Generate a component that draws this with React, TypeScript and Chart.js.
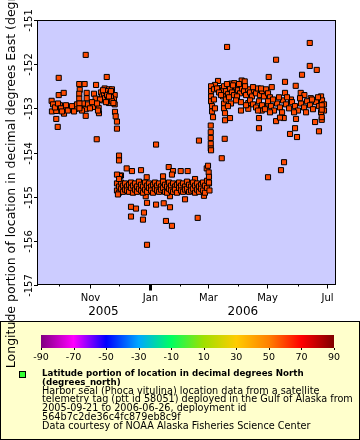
import { useEffect, useRef } from 'react';
import { Chart, registerables } from 'chart.js';

Chart.register(...registerables);

const DAY = 86400000;
const deploymentStart = Date.parse('2005-09-21');
const axisStart = Date.parse('2005-09-09T10:00:00Z');
const axisEnd = Date.parse('2006-07-08T19:00:00Z');

// [days since deployment start, longitude (degrees_east)]
const fallLocations: [number, number][] = [
  [37.0, -151.79], [9.5, -152.31], [58.4, -152.29], [30.4, -152.45], [35.9, -152.45], [47.5, -152.47],
  [30.9, -152.58], [9.5, -152.70], [14.6, -152.65], [38.0, -152.65], [38.0, -152.77], [30.4, -152.67],
  [30.4, -152.78], [45.4, -152.67], [47.1, -152.78], [56.3, -152.55], [60.7, -152.57], [63.7, -152.57],
  [66.5, -152.70], [65.8, -152.80], [66.5, -152.91], [60.7, -152.88], [2.3, -152.83], [10.8, -152.93],
  [15.6, -152.99], [21.3, -153.02], [26.8, -153.01], [37.0, -153.02], [44.4, -152.97], [50.2, -152.99],
  [2.6, -153.07], [7.0, -153.06], [14.9, -153.12], [37.0, -153.17], [50.5, -153.11], [66.8, -153.08],
  [7.0, -153.24], [68.8, -153.30], [68.8, -153.46], [8.5, -153.42], [48.2, -153.70],
  [52.5, -152.64], [53.6, -152.73], [54.6, -152.82], [55.6, -152.68], [56.6, -152.77], [57.6, -152.61],
  [58.7, -152.70], [59.7, -152.80], [61.7, -152.66], [62.7, -152.75], [63.7, -152.84], [51.5, -152.80],
  [54.6, -152.59], [57.6, -152.86], [60.7, -152.73], [62.7, -152.61],
  [3.7, -152.91], [5.7, -152.98], [8.8, -152.89], [11.8, -153.00], [12.8, -153.07], [16.9, -152.93],
  [18.8, -153.05], [23.0, -152.95], [25.1, -153.07], [28.1, -152.91], [31.2, -152.98], [33.2, -153.05],
  [34.2, -152.89], [39.3, -152.91], [41.3, -153.00], [43.4, -152.86], [48.5, -152.89], [49.5, -153.05],
  [30.6, -152.89], [30.6, -153.00], [65.2, -152.88], [67.5, -153.18],
];

const winterLocations: [number, number][] = [
  [70.9, -154.07], [70.9, -154.18], [72.9, -154.52], [78.7, -154.36], [84.1, -154.42], [93.3, -154.40],
  [99.1, -154.56], [108.6, -153.82], [121.5, -154.33], [125.9, -154.42], [133.7, -154.42], [140.8, -154.42],
  [124.8, -154.50], [115.7, -154.54], [148.3, -154.60], [160.2, -154.36], [162.2, -154.45], [71.9, -154.53],
  [98.1, -154.99], [122.8, -154.99], [138.1, -155.06], [157.4, -154.98], [99.4, -155.14], [108.6, -155.18],
  [116.4, -155.15], [122.8, -155.24], [83.1, -155.23], [88.2, -155.27], [96.3, -155.36], [83.1, -155.45],
  [95.3, -155.52], [118.7, -155.55], [124.8, -155.66], [151.0, -155.48], [99.4, -156.09], [152.3, -153.73],
  [68.8, -154.70], [68.8, -154.86], [70.9, -154.77], [70.9, -154.91], [72.9, -154.68], [72.9, -154.82],
  [74.9, -154.75], [74.9, -154.89], [77.0, -154.70], [77.0, -154.84], [79.0, -154.77], [79.0, -154.86],
  [81.1, -154.73], [81.1, -154.89], [83.1, -154.68], [83.1, -154.80], [85.1, -154.75], [85.1, -154.91],
  [87.2, -154.70], [87.2, -154.84], [89.2, -154.77], [89.2, -154.89], [91.2, -154.66], [91.2, -154.82],
  [93.3, -154.73], [93.3, -154.86], [95.3, -154.77], [95.3, -154.91], [97.4, -154.68], [97.4, -154.84],
  [99.4, -154.75], [99.4, -154.89], [101.4, -154.70], [101.4, -154.80], [103.5, -154.77], [103.5, -154.86],
  [105.5, -154.73], [105.5, -154.91], [107.5, -154.68], [107.5, -154.82], [109.6, -154.75], [109.6, -154.86],
  [111.6, -154.70], [111.6, -154.89], [113.6, -154.77], [113.6, -154.84], [115.7, -154.66], [115.7, -154.80],
  [117.7, -154.73], [117.7, -154.89], [119.8, -154.77], [119.8, -154.91], [121.8, -154.68], [121.8, -154.82],
  [123.8, -154.75], [123.8, -154.86], [125.9, -154.70], [125.9, -154.89], [127.9, -154.77], [127.9, -154.84],
  [129.9, -154.73], [129.9, -154.91], [132.0, -154.68], [132.0, -154.80], [134.0, -154.75], [134.0, -154.86],
  [136.0, -154.70], [136.0, -154.89], [138.1, -154.77], [138.1, -154.84], [140.1, -154.66], [140.1, -154.82],
  [142.2, -154.73], [142.2, -154.89], [144.2, -154.77], [144.2, -154.86], [146.2, -154.68], [146.2, -154.82],
  [148.3, -154.75], [148.3, -154.91], [150.3, -154.70], [150.3, -154.84], [152.3, -154.77], [152.3, -154.89],
  [154.4, -154.73], [154.4, -154.82], [156.4, -154.68], [156.4, -154.86], [158.4, -154.75], [158.4, -154.91],
  [160.5, -154.64], [160.5, -154.80], [162.5, -154.55], [162.5, -154.70],
  [68.8, -154.50], [69.8, -154.95], [70.9, -154.60], [161.5, -154.30], [162.5, -154.68], [163.0, -154.86],
];

const springLocations: [number, number][] = [
  [180.9, -151.61], [265.1, -151.52], [230.8, -151.90], [265.1, -152.04], [272.2, -152.13], [257.2, -152.24],
  [223.3, -152.29], [239.9, -152.40], [250.8, -152.49], [171.7, -152.38], [168.6, -152.47], [174.4, -152.54],
  [185.2, -152.44], [188.3, -152.43], [195.8, -152.37], [198.9, -152.39], [226.4, -152.52], [239.9, -152.65],
  [255.9, -152.65], [259.6, -152.70], [266.1, -152.77], [276.6, -152.73], [246.0, -152.80], [183.9, -153.22],
  [178.8, -153.27], [213.4, -153.22], [230.8, -153.29], [238.6, -153.22], [251.1, -153.24], [270.5, -153.31],
  [277.3, -153.26], [213.4, -153.45], [250.1, -153.45], [245.0, -153.58], [252.1, -153.65], [274.5, -153.52],
  [164.3, -153.39], [164.3, -153.54], [164.3, -153.67], [164.3, -153.80], [164.3, -153.91], [178.5, -153.69],
  [175.5, -154.13], [164.6, -153.95], [238.9, -154.22], [235.8, -154.40], [222.6, -154.56], [195.1, -152.86],
  [195.1, -153.05], [202.5, -152.88], [202.5, -153.01], [216.2, -153.05], [222.6, -152.89], [234.8, -153.21],
  [164.6, -152.50], [164.6, -152.61], [164.6, -152.73], [164.6, -152.84], [165.6, -152.95], [165.6, -153.07],
  [166.6, -153.20], [167.6, -152.57], [167.6, -152.80], [168.6, -153.00],
  [176.8, -152.59], [176.8, -152.73], [177.8, -152.89], [177.8, -153.00], [178.8, -153.11], [179.8, -152.80],
  [170.7, -152.55], [172.7, -152.64], [174.7, -152.70], [177.8, -152.50], [179.8, -152.61], [181.8, -152.68],
  [183.9, -152.55], [185.9, -152.64], [188.0, -152.70], [190.0, -152.52], [192.0, -152.59], [194.1, -152.66],
  [196.1, -152.55], [198.2, -152.61], [200.2, -152.70], [202.2, -152.57], [204.3, -152.64], [206.3, -152.73],
  [208.3, -152.59], [210.4, -152.66], [212.4, -152.55], [214.4, -152.70], [216.5, -152.61], [218.5, -152.73],
  [220.6, -152.57], [222.6, -152.66], [224.6, -152.75], [182.9, -152.75], [191.0, -152.73], [199.2, -152.50],
  [207.3, -152.52], [215.5, -152.55], [186.9, -152.48], [180.8, -152.45], [193.1, -152.45],
  [204.3, -152.82], [207.3, -152.91], [210.4, -152.98], [213.4, -152.84], [216.5, -152.93], [219.5, -153.02],
  [222.6, -152.84], [225.7, -152.95], [228.7, -153.05], [231.8, -152.89], [234.8, -152.98], [237.9, -152.82],
  [240.9, -152.91], [244.0, -153.00], [247.0, -152.86], [250.1, -152.95], [253.1, -153.05], [256.2, -152.89],
  [259.3, -152.98], [262.3, -152.84], [265.4, -152.93], [268.4, -153.02], [271.5, -152.86], [274.5, -152.95],
  [277.6, -152.82], [279.6, -152.91], [279.6, -153.05], [276.6, -153.09], [227.7, -152.80], [233.8, -152.75],
  [241.9, -152.75], [255.2, -152.77], [267.4, -152.80], [273.5, -152.75], [261.3, -153.09], [249.1, -153.09],
  [236.9, -153.09], [224.6, -153.09], [212.4, -153.05], [200.2, -152.93], [190.0, -152.82], [184.9, -152.89],
  [181.8, -152.95], [277.3, -152.93], [277.3, -153.03], [277.3, -153.20],
];

const lonTicks = [-157, -156, -155, -154, -153, -152, -151];
const monthTicks = ['2005-10-01', '2005-11-01', '2005-12-01', '2006-01-01', '2006-02-01', '2006-03-01', '2006-04-01', '2006-05-01', '2006-06-01', '2006-07-01'];
const monthLabels = ['', 'Nov', '', 'Jan', '', 'Mar', '', 'May', '', 'Jul'];
const yearBoundary = '2006-01-01';
const yearLabels = ['2005', '2006'];
const yearLabelDates = ['2005-11-15', '2006-04-06'];
const colorBarTicks = [-90, -70, -50, -30, -10, 10, 30, 50, 70, 90];
const colorBarColors = ['#800080', '#ff00ff', '#0000ff', '#00a8ff', '#00ff60', '#a0e000', '#ffcc00', '#ff8000', '#ff0000', '#800000'];
const legendTitle = ['Latitude portion of location in decimal degrees North', '(degrees_north)'];
const legendLines = [
  'Harbor seal (Phoca vitulina) location data from a satellite',
  'telemetry tag (ptt id 58051) deployed in the Gulf of Alaska from',
  '2005-09-21 to 2006-06-26, deployment id',
  '564b7c2de36c4fc879eb8c9f',
  'Data courtesy of NOAA Alaska Fisheries Science Center',
];
const yTitle = 'Longitude portion of location in decimal degrees East (degrees_east)';

const FONT = '"DejaVu Sans", Verdana, sans-serif';

const decor = {
  id: 'decor',
  beforeDraw(chart: any) {
    const { ctx, chartArea: a, width, height } = chart;
    ctx.save();
    ctx.fillStyle = '#ffffff';
    ctx.fillRect(0, 0, width, height);
    ctx.fillStyle = '#ccccff';
    ctx.fillRect(a.left, a.top, a.right - a.left, a.bottom - a.top);
    ctx.restore();
  },
  afterDraw(chart: any) {
    const { ctx, chartArea: a } = chart;
    const xs = chart.scales.x;
    const ys = chart.scales.y;
    ctx.save();
    ctx.strokeStyle = '#000';
    ctx.fillStyle = '#000';
    ctx.lineWidth = 1;
    ctx.strokeRect(a.left - 0.5, a.top + 0.5, a.right - a.left + 1, a.bottom - a.top - 1);

    // y ticks and labels
    ctx.font = `10px ${FONT}`;
    lonTicks.forEach((lon) => {
      const y = Math.round(ys.getPixelForValue(lon)) + 0.5;
      ctx.beginPath();
      ctx.moveTo(a.left - 4, y);
      ctx.lineTo(a.left, y);
      ctx.stroke();
      ctx.save();
      ctx.translate(a.left - 6.5, y);
      ctx.rotate(-Math.PI / 2);
      ctx.textAlign = 'center';
      ctx.textBaseline = 'alphabetic';
      ctx.fillText(String(lon), 0, 0);
      ctx.restore();
    });

    // x ticks and labels
    const bottom = a.bottom - 0.5;
    monthTicks.forEach((m, i) => {
      const t = Date.parse(m);
      const x = Math.round(xs.getPixelForValue(t)) + 0.5;
      const isYear = m === yearBoundary;
      ctx.lineWidth = isYear ? 3 : 1;
      const len = isYear ? 6 : monthLabels[i] ? 4 : 2;
      ctx.beginPath();
      ctx.moveTo(x, bottom);
      ctx.lineTo(x, bottom + len);
      ctx.stroke();
      if (monthLabels[i]) {
        ctx.textAlign = 'center';
        ctx.textBaseline = 'alphabetic';
        ctx.fillText(monthLabels[i], x, 301);
      }
    });
    ctx.lineWidth = 1;
    ctx.font = `12px ${FONT}`;
    yearLabels.forEach((label, i) => {
      const x = xs.getPixelForValue(Date.parse(yearLabelDates[i]));
      ctx.textAlign = 'center';
      ctx.fillText(label, x, 315);
    });

    // legend box
    ctx.fillStyle = '#ffffcc';
    ctx.fillRect(0, 321, 360, 119);
    ctx.strokeStyle = '#000';
    ctx.strokeRect(0.5, 321.5, 359, 118);

    // color bar
    const cbL = 41, cbR = 334, cbT = 335, cbB = 348;
    const grad = ctx.createLinearGradient(cbL, 0, cbR, 0);
    colorBarColors.forEach((c, i) => grad.addColorStop(i / (colorBarColors.length - 1), c));
    ctx.fillStyle = grad;
    ctx.fillRect(cbL, cbT, cbR - cbL, cbB - cbT);
    ctx.fillStyle = '#000';
    ctx.font = `9.5px ${FONT}`;
    ctx.textAlign = 'center';
    colorBarTicks.forEach((v) => {
      const x = cbL + ((v + 90) / 180) * (cbR - cbL);
      const xp = Math.round(x) + 0.5;
      ctx.beginPath();
      ctx.moveTo(xp, cbB);
      ctx.lineTo(xp, cbB + 2);
      ctx.stroke();
      ctx.fillText(String(v), x, 360);
    });

    // legend marker and text
    ctx.fillStyle = '#33ff33';
    ctx.fillRect(19.5, 371.5, 6, 6);
    ctx.strokeRect(19.5, 371.5, 6, 6);
    ctx.fillStyle = '#000';
    ctx.textAlign = 'left';
    ctx.font = `bold 8.7px ${FONT}`;
    legendTitle.forEach((line, i) => ctx.fillText(line, 42, 376 + 8.8 * i));
    ctx.font = `9.7px ${FONT}`;
    legendLines.forEach((line, i) => ctx.fillText(line, 42, 376 + 8.8 * (i + 2)));

    // y axis title
    ctx.save();
    ctx.font = `12.5px ${FONT}`;
    ctx.translate(15, (a.top + a.bottom) / 2);
    ctx.rotate(-Math.PI / 2);
    ctx.textAlign = 'center';
    ctx.textBaseline = 'alphabetic';
    ctx.fillText(yTitle, 0, 0);
    ctx.restore();

    ctx.restore();
  },
};

const toPoints = (list: [number, number][]) =>
  list.map(([d, lon]) => ({ x: deploymentStart + d * DAY, y: lon }));

const pointStyle = {
  pointStyle: 'rect' as const,
  pointRadius: 3.6,
  pointHoverRadius: 3.6,
  backgroundColor: '#ff4a00',
  borderColor: '#000000',
  borderWidth: 1,
  showLine: false,
};

export default function App() {
  const canvasRef = useRef<HTMLCanvasElement | null>(null);

  useEffect(() => {
    document.body.style.margin = '0';
    const canvas = canvasRef.current;
    if (!canvas) return;
    const chart = new Chart(canvas, {
      type: 'scatter',
      data: {
        datasets: [
          { label: 'fall', data: toPoints(fallLocations), ...pointStyle },
          { label: 'winter', data: toPoints(winterLocations), ...pointStyle },
          { label: 'spring', data: toPoints(springLocations), ...pointStyle },
        ],
      },
      options: {
        responsive: false,
        animation: false,
        devicePixelRatio: 1,
        layout: { padding: { left: 38, right: 25, top: 20, bottom: 155 } },
        plugins: { legend: { display: false }, tooltip: { enabled: false } },
        scales: {
          x: { type: 'linear', display: false, min: axisStart, max: axisEnd },
          y: { type: 'linear', display: false, min: -157, max: -151 },
        },
      },
      plugins: [decor],
    });
    return () => chart.destroy();
  }, []);

  return (
    <div style={{ width: 360, height: 440 }}>
      <canvas ref={canvasRef} width={360} height={440} style={{ display: 'block' }} />
    </div>
  );
}
